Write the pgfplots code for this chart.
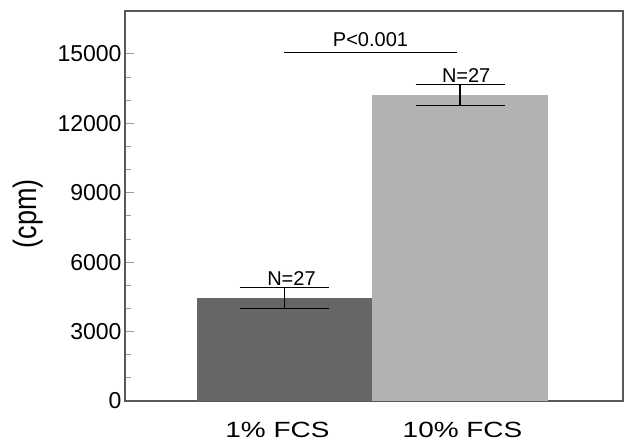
\documentclass[border=0pt]{standalone}
\usepackage{fontspec}
\setmainfont{Liberation Sans}
\usepackage{graphicx}
\usepackage{pgfplots}
\pgfplotsset{compat=1.18}
\begin{document}
\begin{tikzpicture}
\begin{axis}[
  scale only axis, width=498pt, height=390pt,
  xmin=-0.908, xmax=1.928, ymin=0, ymax=16850,
  clip=false,
  axis line style={draw=black!65, line width=1.2pt},
  xtick={-0.04,1.014},
  xticklabels={\scalebox{1.27}[1]{1\% FCS}, \scalebox{1.27}[1]{10\% FCS}},
  x tick style={draw=none},
  xticklabel style={font=\fontsize{22}{26}\selectfont, yshift=-18pt},
  ytick={0,3000,6000,9000,12000,15000}, minor y tick num=2,
  ytick pos=left, tick align=inside,
  major tick length=9pt, minor tick length=6pt,
  y tick style={draw=black!40, line width=0.8pt},
  /pgf/number format/assume math mode=true,
  yticklabel={\pgfmathprintnumber{\tick}},
  yticklabel style={font=\fontsize{23}{27}\selectfont, /pgf/number format/1000 sep={}},
  scaled y ticks=false,
  ylabel={\scalebox{1}[1.2]{(cpm)}},
  ylabel style={font=\fontsize{27}{31}\selectfont, at={(axis description cs:-0.195,0.48)}, anchor=center},
]
\addplot[ybar, bar width=1, bar shift=0pt, fill=black!60, draw=none,
  error bars/.cd, y dir=both, y explicit,
  error bar style={black, line width=1.2pt},
  error mark options={black, line width=1.2pt, mark size=44.5pt, rotate=90}]
  coordinates {(0,4460) +- (0,460)};
\addplot[ybar, bar width=1, bar shift=0pt, fill=black!30, draw=none,
  error bars/.cd, y dir=both, y explicit,
  error bar style={black, line width=1.2pt},
  error mark options={black, line width=1.2pt, mark size=44.5pt, rotate=90}]
  coordinates {(1,13220) +- (0,445)};
\addplot[black, line width=1.2pt] coordinates {(0,15070) (0.98,15070)};
\node[font=\fontsize{20}{24}\selectfont, anchor=base, inner sep=0pt] at (axis cs:0.04,5010) {N=27};
\node[font=\fontsize{20}{24}\selectfont, anchor=base, inner sep=0pt] at (axis cs:1.035,13765) {N=27};
\node[font=\fontsize{20}{24}\selectfont, anchor=base, inner sep=0pt] at (axis cs:0.49,15302) {P<0.001};
\end{axis}
\path ([shift={(-125pt,-43pt)}]current axis.south west) rectangle ([shift={(2pt,11pt)}]current axis.north east);
\end{tikzpicture}
\end{document}
